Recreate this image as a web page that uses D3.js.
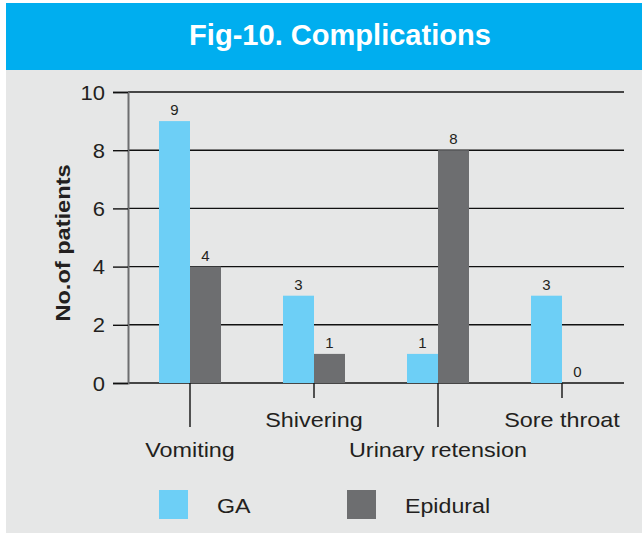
<!DOCTYPE html>
<html>
<head>
<meta charset="utf-8">
<script src="https://cdn.jsdelivr.net/npm/d3@7"></script>
<style>
  html, body { margin: 0; padding: 0; background: #ffffff; }
  svg { display: block; }
  text { font-family: "Liberation Sans", Arial, sans-serif; fill: #231f20; }
</style>
</head>
<body>
<svg id="chart" width="642" height="533"></svg>
<script>
// Complications by anaesthesia type
const categories = ["Vomiting", "Shivering", "Urinary retension", "Sore throat"];
const seriesNames = ["GA", "Epidural"];
const gaValues = [9, 3, 1, 3];
const epiduralValues = [4, 1, 8, 0];
const yTicks = [0, 2, 4, 6, 8, 10];
const titleText = "Fig-10. Complications";
const yLabel = "No.of patients";

const colors = { GA: "#6dcff6", Epidural: "#6d6e70" };
const seriesValues = { GA: gaValues, Epidural: epiduralValues };

const svg = d3.select("#chart");
const W = 642, H = 533;

// horizontally widened lettering: move x/y into a transform and stretch
function widen(sel, sx) {
  sel.each(function () {
    const t = d3.select(this);
    const x = +t.attr("x") || 0, y = +t.attr("y") || 0;
    t.attr("x", 0).attr("y", 0).attr("transform", `translate(${x},${y}) scale(${sx},1)`);
  });
}

// panel background and header band
svg.append("rect").attr("x", 6).attr("y", 70).attr("width", W - 6).attr("height", H - 70).attr("fill", "#e6e7e7");
svg.append("rect").attr("x", 6).attr("y", 3).attr("width", W - 6).attr("height", 67).attr("fill", "#00aeef");

const title = svg.append("text")
  .attr("x", 340).attr("y", 45)
  .attr("text-anchor", "middle")
  .style("font-size", "29px").style("font-weight", "bold").style("fill", "#ffffff")
  .text(titleText);
// condensed title
const tw = title.node().getComputedTextLength();
widen(title, 302 / tw);

const plotLeft = 128, plotRight = 624, plotTop = 92, plotBottom = 383;

const y = d3.scaleLinear().domain([0, 10]).range([plotBottom, plotTop]);
const x0 = d3.scaleBand().domain(categories).range([plotLeft, plotRight]).paddingInner(0.5).paddingOuter(0.25);
const x1 = d3.scaleBand().domain(seriesNames).range([0, x0.bandwidth()]);

// horizontal gridlines
svg.append("g").selectAll("line").data(yTicks).join("line")
  .attr("x1", plotLeft).attr("x2", plotRight)
  .attr("y1", d => y(d)).attr("y2", d => y(d))
  .attr("stroke", "#111").attr("stroke-width", 1.4);

// y axis
const yAxis = svg.append("g").attr("transform", `translate(${plotLeft},0)`)
  .call(d3.axisLeft(y).tickValues(yTicks).tickSize(15).tickPadding(8));
yAxis.select(".domain").attr("stroke", "#6d6e70").attr("stroke-width", 2);
yAxis.selectAll(".tick line").attr("stroke", "#111").attr("stroke-width", 1.4);
yAxis.selectAll(".tick text")
  .style("font-family", "'Liberation Sans', Arial, sans-serif")
  .style("font-size", "20px").attr("fill", "#231f20")
  .attr("dy", null).attr("y", 7)
  .call(widen, 1.1);

const yl = svg.append("text")
  .attr("transform", `translate(70,243) rotate(-90) scale(1.18,1)`)
  .attr("text-anchor", "middle")
  .style("font-size", "20px").style("font-weight", "bold")
  .text(yLabel);

// bars
const groups = svg.append("g").selectAll("g").data(categories).join("g")
  .attr("transform", d => `translate(${x0(d)},0)`);

groups.selectAll("rect")
  .data((c, i) => seriesNames.map(s => ({ s, v: seriesValues[s][i] })))
  .join("rect")
  .attr("x", d => x1(d.s)).attr("width", x1.bandwidth())
  .attr("y", d => y(d.v)).attr("height", d => plotBottom - y(d.v))
  .attr("fill", d => colors[d.s]);

groups.selectAll("text.val")
  .data((c, i) => seriesNames.map(s => ({ s, v: seriesValues[s][i] })))
  .join("text").attr("class", "val")
  .attr("x", d => x1(d.s) + x1.bandwidth() / 2)
  .attr("y", d => y(d.v) - 6)
  .attr("text-anchor", "middle")
  .style("font-size", "15px")
  .text(d => d.v);

// category ticks and staggered labels
const cx = d => x0(d) + x0.bandwidth() / 2;
svg.append("g").selectAll("line").data(categories).join("line")
  .attr("x1", cx).attr("x2", cx)
  .attr("y1", plotBottom).attr("y2", (d, i) => i % 2 === 0 ? 427 : 398)
  .attr("stroke", "#111").attr("stroke-width", 1.4);

svg.append("g").selectAll("text").data(categories).join("text")
  .attr("x", cx)
  .attr("y", (d, i) => i % 2 === 0 ? 457 : 427)
  .attr("text-anchor", "middle")
  .style("font-size", "20px")
  .text(d => d)
  .call(widen, 1.17);

// legend
const legendX = [159, 347];
const legend = svg.append("g").selectAll("g").data(seriesNames).join("g")
  .attr("transform", (d, i) => `translate(${legendX[i]},490)`);
legend.append("rect").attr("width", 29).attr("height", 29).attr("fill", d => colors[d]);
legend.append("text").attr("x", 58).attr("y", 23).style("font-size", "20px").text(d => d)
  .call(widen, 1.16);
</script>
</body>
</html>
